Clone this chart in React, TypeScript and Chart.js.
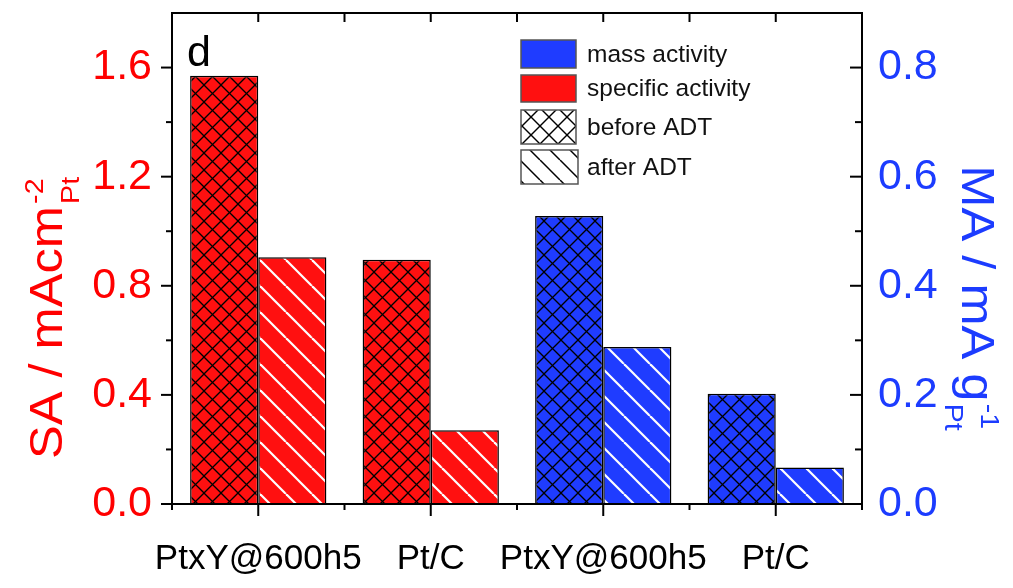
import React, { useEffect, useRef } from "react";
import { Chart, registerables } from "chart.js";

Chart.register(...registerables);

// ---- data ----
const categories = ["PtxY@600h5", "Pt/C", "PtxY@600h5", "Pt/C"];
const saBefore = [1.57, 0.895, null, null];
const saAfter = [0.905, 0.27, null, null];
const maBefore = [null, null, 0.528, 0.202];
const maAfter = [null, null, 0.288, 0.067];
const saTicks = [0, 0.4, 0.8, 1.2, 1.6];
const maTicks = [0, 0.2, 0.4, 0.6, 0.8];
const legendLabels = ["mass activity", "specific activity", "before ADT", "after ADT"];

const FONT = "'Liberation Sans', Arial, Helvetica, sans-serif";
const RED = "#ff1010";
const BLUE = "#1f3cff";
const RED_TEXT = "#ff0000";
const BLUE_TEXT = "#1c3cff";

type Ctx = CanvasRenderingContext2D;

function makePattern(ctx: Ctx, bg: string, line: string, lw: number, size: number, cross: boolean) {
  const c = document.createElement("canvas");
  c.width = size;
  c.height = size;
  const g = c.getContext("2d") as Ctx;
  g.fillStyle = bg;
  g.fillRect(0, 0, size, size);
  g.strokeStyle = line;
  g.lineWidth = lw;
  for (const k of [-1, 0, 1]) {
    g.beginPath();
    g.moveTo(k * size, 0);
    g.lineTo(k * size + size, size);
    g.stroke();
    if (cross) {
      g.beginPath();
      g.moveTo(k * size, size);
      g.lineTo(k * size + size, 0);
      g.stroke();
    }
  }
  return ctx.createPattern(c, "repeat") as CanvasPattern;
}

// Rotated axis title with a stacked superscript / subscript after the main text.
function drawRichTitle(
  ctx: Ctx,
  bx: number,
  cy: number,
  angle: number,
  main: string,
  sup: string,
  sub: string,
  size: number,
  small: number,
  stretch: number,
  color: string
) {
  ctx.save();
  ctx.translate(bx, cy);
  ctx.rotate(angle);
  ctx.scale(stretch, 1);
  ctx.fillStyle = color;
  ctx.textAlign = "left";
  ctx.textBaseline = "alphabetic";
  ctx.font = `${size}px ${FONT}`;
  const mw = ctx.measureText(main).width;
  ctx.font = `${small}px ${FONT}`;
  const sw = Math.max(ctx.measureText(sup).width, ctx.measureText(sub).width);
  const total = mw + 2 + sw;
  let x = -total / 2;
  ctx.font = `${size}px ${FONT}`;
  ctx.fillText(main, x, 0);
  x += mw + 2;
  ctx.font = `${small}px ${FONT}`;
  ctx.fillText(sup, x, -size * 0.42);
  ctx.fillText(sub, x, size * 0.36);
  ctx.restore();
}

const framePlugin = {
  id: "frameTicks",
  afterDatasetsDraw(chart: any) {
    const ctx: Ctx = chart.ctx;
    const { left, right, top, bottom } = chart.chartArea;
    const xs = chart.scales.x;
    const ys = chart.scales.y;
    const y1 = chart.scales.y1;
    ctx.save();
    ctx.strokeStyle = "#000";
    ctx.lineWidth = 2;
    ctx.lineCap = "butt";
    ctx.strokeRect(left, top, right - left, bottom - top);

    const seg = (x0: number, y0: number, x1: number, y1p: number) => {
      ctx.beginPath();
      ctx.moveTo(x0, y0);
      ctx.lineTo(x1, y1p);
      ctx.stroke();
    };

    // left axis: outward ticks
    saTicks.forEach((v, i) => {
      const p = ys.getPixelForValue(v);
      seg(left - 11, p, left, p);
      if (i < saTicks.length - 1) {
        const m = ys.getPixelForValue((v + saTicks[i + 1]) / 2);
        seg(left - 6, m, left, m);
      }
    });
    // right axis: inward ticks
    maTicks.forEach((v, i) => {
      const p = y1.getPixelForValue(v);
      seg(right - 12, p, right, p);
      if (i < maTicks.length - 1) {
        const m = y1.getPixelForValue((v + maTicks[i + 1]) / 2);
        seg(right - 7, m, right, m);
      }
    });
    // x axis: long ticks at group centres, short ticks at group borders
    const n = categories.length;
    const centers = categories.map((_, i) => xs.getPixelForValue(i));
    const step = n > 1 ? centers[1] - centers[0] : right - left;
    const borders: number[] = [];
    for (let i = 0; i <= n; i++) borders.push(centers[0] - step / 2 + i * step);
    centers.forEach((c) => {
      seg(c, bottom, c, bottom + 12);
      seg(c, top, c, top + 9);
    });
    borders.forEach((b, i) => {
      seg(b, bottom, b, bottom + 6);
      if (i > 0 && i < n) seg(b, top, b, top + 9);
    });
    ctx.restore();
  },
};

function buildOverlay(patterns: Record<string, CanvasPattern>) {
  return {
    id: "overlay",
    afterDraw(chart: any) {
      const ctx: Ctx = chart.ctx;
      const { left, top } = chart.chartArea;

      // panel letter
      ctx.save();
      ctx.fillStyle = "#000";
      ctx.font = `43px ${FONT}`;
      ctx.textAlign = "left";
      ctx.textBaseline = "alphabetic";
      ctx.fillText("d", left + 15, top + 53);
      ctx.restore();

      // legend
      const fills = [BLUE, RED, patterns.legendCross, patterns.legendDiag];
      const boxes = [
        [521, 40, 55, 28],
        [521, 75, 55, 27],
        [521, 110, 55, 34],
        [521, 150, 57, 34],
      ];
      ctx.save();
      legendLabels.forEach((label, i) => {
        const [bx, by, bw, bh] = boxes[i];
        ctx.fillStyle = fills[i] as any;
        ctx.fillRect(bx, by, bw, bh);
        ctx.strokeStyle = "#555";
        ctx.lineWidth = 1.5;
        ctx.strokeRect(bx, by, bw, bh);
        ctx.fillStyle = "#111";
        ctx.font = `24.5px ${FONT}`;
        ctx.textAlign = "left";
        ctx.textBaseline = "middle";
        ctx.fillText(label, 587, by + bh / 2 + 1);
      });
      ctx.restore();

      // axis titles
      drawRichTitle(ctx, 62, 318, -Math.PI / 2, "SA / mAcm", "-2", "Pt", 46, 26, 1.1, RED_TEXT);
      drawRichTitle(ctx, 962, 298, Math.PI / 2, "MA / mA g", "-1", "Pt", 46, 26, 1.1, BLUE_TEXT);
    },
  };
}

export default function App() {
  const canvasRef = useRef<HTMLCanvasElement | null>(null);

  useEffect(() => {
    const canvas = canvasRef.current;
    if (!canvas) return;
    const ctx = canvas.getContext("2d") as Ctx;

    const patterns = {
      redCross: makePattern(ctx, RED, "#000", 1.3, 17, true),
      redDiag: makePattern(ctx, RED, "#fff", 2.2, 26, false),
      blueCross: makePattern(ctx, BLUE, "#000", 1.3, 17, true),
      blueDiag: makePattern(ctx, BLUE, "#fff", 2.2, 26, false),
      legendCross: makePattern(ctx, "#fff", "#000", 1.4, 18, true),
      legendDiag: makePattern(ctx, "#fff", "#000", 1.5, 20, false),
    };

    const barCommon = {
      borderColor: "#000",
      borderWidth: 1.5,
      skipNull: true,
      categoryPercentage: 0.79,
      barPercentage: 1.0,
    };

    const noPad = (s: any) => {
      s.paddingTop = 0;
      s.paddingBottom = 0;
      s.paddingLeft = 0;
      s.paddingRight = 0;
    };

    const chart = new Chart(canvas, {
      type: "bar",
      data: {
        labels: categories,
        datasets: [
          { ...barCommon, label: "specific activity, before ADT", data: saBefore, yAxisID: "y", backgroundColor: patterns.redCross },
          { ...barCommon, label: "specific activity, after ADT", data: saAfter, yAxisID: "y", backgroundColor: patterns.redDiag },
          { ...barCommon, label: "mass activity, before ADT", data: maBefore, yAxisID: "y1", backgroundColor: patterns.blueCross },
          { ...barCommon, label: "mass activity, after ADT", data: maAfter, yAxisID: "y1", backgroundColor: patterns.blueDiag },
        ] as any,
      },
      options: {
        responsive: false,
        animation: false,
        layout: { padding: { top: 13, left: 0, right: 0, bottom: 0 } },
        plugins: {
          legend: { display: false },
          tooltip: { enabled: false },
        },
        scales: {
          x: {
            offset: true,
            grid: { display: false, drawTicks: false },
            border: { display: false },
            ticks: {
              color: "#000",
              font: { family: FONT, size: 35 },
              padding: 34,
              maxRotation: 0,
              autoSkip: false,
            },
            afterFit: (s: any) => {
              s.height = 84;
              noPad(s);
            },
          },
          y: {
            position: "left",
            min: 0,
            max: 1.8,
            grid: { display: false, drawTicks: false },
            border: { display: false },
            afterBuildTicks: (s: any) => {
              s.ticks = saTicks.map((v) => ({ value: v }));
            },
            ticks: {
              color: RED_TEXT,
              font: { family: FONT, size: 43 },
              padding: 20,
              callback: (v: any) => Number(v).toFixed(1),
            },
            afterFit: (s: any) => {
              s.width = 172;
              noPad(s);
            },
          },
          y1: {
            position: "right",
            min: 0,
            max: 0.9,
            grid: { display: false, drawTicks: false },
            border: { display: false },
            afterBuildTicks: (s: any) => {
              s.ticks = maTicks.map((v) => ({ value: v }));
            },
            ticks: {
              color: BLUE_TEXT,
              font: { family: FONT, size: 43 },
              padding: 16,
              callback: (v: any) => Number(v).toFixed(1),
            },
            afterFit: (s: any) => {
              s.width = 151;
              noPad(s);
            },
          },
        },
      } as any,
      plugins: [framePlugin, buildOverlay(patterns)],
    });

    return () => chart.destroy();
  }, []);

  return (
    <div style={{ position: "fixed", left: 0, top: 0, width: 1013, height: 588, background: "#fff" }}>
      <canvas ref={canvasRef} width={1013} height={588} style={{ display: "block" }} />
    </div>
  );
}
